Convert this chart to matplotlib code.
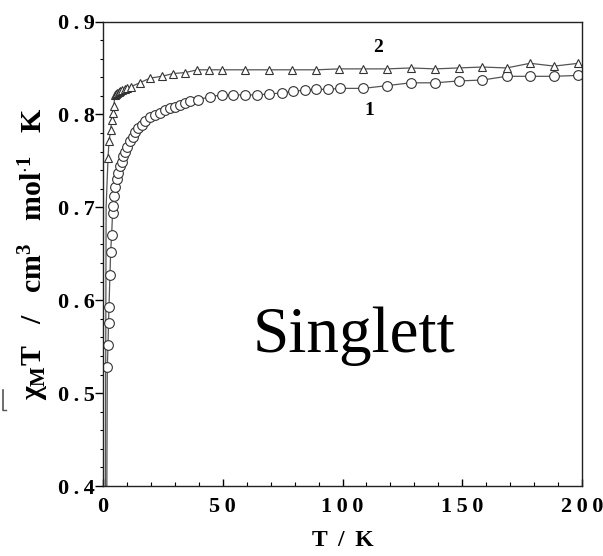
import matplotlib
matplotlib.use("Agg")
import matplotlib.pyplot as plt
from matplotlib.ticker import MultipleLocator, FixedLocator, FixedFormatter
from matplotlib.lines import Line2D

# ---------------- data ----------------
T1 = [1.8, 2.1, 2.3, 2.5, 2.9, 3.2, 3.6, 4.0, 4.3, 4.6, 5.0, 5.7, 6.4, 7.1, 7.8,
      8.5, 9.2, 10.2, 11.3, 12.4, 13.4, 14.7, 16.2, 17.5, 19.6, 21.7, 23.8, 25.9,
      28.0, 30.1, 32.2, 34.2, 36.3, 39.8, 44.7, 49.5, 54.4, 59.3, 64.2, 69.4,
      74.6, 79.5, 84.3, 89.0, 94.0, 99.0, 108.7, 118.7, 128.5, 138.6, 148.5,
      158.4, 168.5, 178.3, 188.4, 198.5]
Y1 = [0.528, 0.552, 0.575, 0.593, 0.627, 0.652, 0.670, 0.694, 0.701, 0.712,
      0.722, 0.730, 0.737, 0.744, 0.749, 0.755, 0.760, 0.765, 0.771, 0.776,
      0.781, 0.785, 0.789, 0.793, 0.797, 0.799, 0.802, 0.805, 0.807, 0.808,
      0.810, 0.812, 0.814, 0.816, 0.819, 0.821, 0.821, 0.821, 0.821, 0.822,
      0.823, 0.825, 0.826, 0.827, 0.827, 0.828, 0.828, 0.831, 0.834, 0.834,
      0.836, 0.837, 0.841, 0.841, 0.841, 0.842]

T2 = [2.1, 2.5, 3.2, 3.6, 4.0, 4.6, 4.9, 5.4, 6.0, 6.6, 7.3, 8.0, 9.0, 10.2,
      11.8, 15.3, 19.6, 24.5, 29.4, 34.2, 39.4, 44.4, 49.5, 59.3, 69.3, 79.0,
      89.0, 98.7, 108.7, 118.7, 128.5, 138.6, 148.5, 158.4, 168.5, 178.3,
      188.4, 198.5]
Y2 = [0.753, 0.771, 0.783, 0.794, 0.801, 0.809, 0.821, 0.822, 0.823, 0.824,
      0.825, 0.826, 0.827, 0.828, 0.830, 0.834, 0.839, 0.841, 0.844, 0.845,
      0.848, 0.848, 0.848, 0.848, 0.848, 0.848, 0.848, 0.849, 0.849, 0.849,
      0.850, 0.849, 0.850, 0.851, 0.850, 0.855, 0.852, 0.855]

# low-temperature continuation of the fitted curves
FIT1_T = [1.6, 1.8]
FIT1_Y = [0.40, 0.528]
FIT2_T = [1.0, 1.3, 2.1]
FIT2_Y = [0.40, 0.70, 0.753]

TS = "\u2009"
XTICKS = [0, 50, 100, 150, 200]
XTICKLABELS = ["0", TS.join("50"), TS.join("100"), TS.join("150"), TS.join("200")]
YTICKS = [0.4, 0.5, 0.6, 0.7, 0.8, 0.9]
YTICKLABELS = [TS.join(s) for s in ["0.4", "0.5", "0.6", "0.7", "0.8", "0.9"]]

# ---------------- style ----------------
plt.rcParams['font.family'] = ['Liberation Serif', 'DejaVu Serif']
plt.rcParams['mathtext.fontset'] = 'custom'
plt.rcParams['mathtext.rm'] = 'Liberation Serif:bold'
plt.rcParams['mathtext.it'] = 'Liberation Serif:bold'
plt.rcParams['mathtext.bf'] = 'Liberation Serif:bold'

fig = plt.figure(figsize=(6.03, 5.56), dpi=100)
ax = fig.add_axes([103/603, 1-486/556, (582-103)/603, (486-21.5)/556])

lc = '#555555'
ax.plot(FIT1_T, FIT1_Y, '-', color=lc, lw=0.9)
ax.plot(FIT2_T, FIT2_Y, '-', color=lc, lw=0.9)
ax.plot(T1, Y1, '-', color=lc, lw=0.9, marker='o', ms=7.0, mfc='white',
        mec='#333333', mew=0.8)
ax.plot(T2, Y2, '-', color=lc, lw=0.9, marker='^', ms=6.0, mfc='white',
        mec='#333333', mew=0.8)

ax.set_xlim(0, 200)
ax.set_ylim(0.4, 0.9)
ax.xaxis.set_major_locator(FixedLocator(XTICKS))
ax.xaxis.set_major_formatter(FixedFormatter(XTICKLABELS))
ax.xaxis.set_minor_locator(MultipleLocator(10))
ax.yaxis.set_major_locator(FixedLocator(YTICKS))
ax.yaxis.set_major_formatter(FixedFormatter(YTICKLABELS))
ax.yaxis.set_minor_locator(MultipleLocator(0.02))

for s in ax.spines.values():
    s.set_linewidth(1.0)
    s.set_color('#222222')

ax.tick_params(axis='y', which='major', direction='out', length=6, width=1,
               labelsize=16, pad=0)
ax.tick_params(axis='y', which='minor', direction='out', length=2.5, width=0.8)
ax.tick_params(axis='x', which='major', direction='in', length=5, width=1,
               labelsize=16, pad=8)
ax.tick_params(axis='x', which='minor', direction='in', length=3, width=0.8)
for lab in ax.get_xticklabels() + ax.get_yticklabels():
    lab.set_fontweight('bold')

ax.set_xlabel('T \u2009/\u2009 K', fontsize=17, fontweight='bold', labelpad=9)
ax.set_ylabel(r'$\chi_{\rm M}$T   /   cm$^{3}$   mol$^{\cdot 1}$   K',
              fontsize=21.5, fontweight='bold', labelpad=5)

ax.text(115, 0.872, '2', fontsize=14, fontweight='bold', ha='center', va='center')
ax.text(111, 0.804, '1', fontsize=14, fontweight='bold', ha='center', va='center')
ax.text(105, 0.561, 'Singlett', fontsize=47, ha='center', va='center')

# clipped fragment at left edge
fig.add_artist(Line2D([3/603, 3/603], [1-390/556, 1-410/556],
                      color='#555555', lw=1.2))
fig.add_artist(Line2D([3/603, 6/603], [1-410/556, 1-410/556],
                      color='#555555', lw=1.0))

fig.savefig('out.png', dpi=100)
